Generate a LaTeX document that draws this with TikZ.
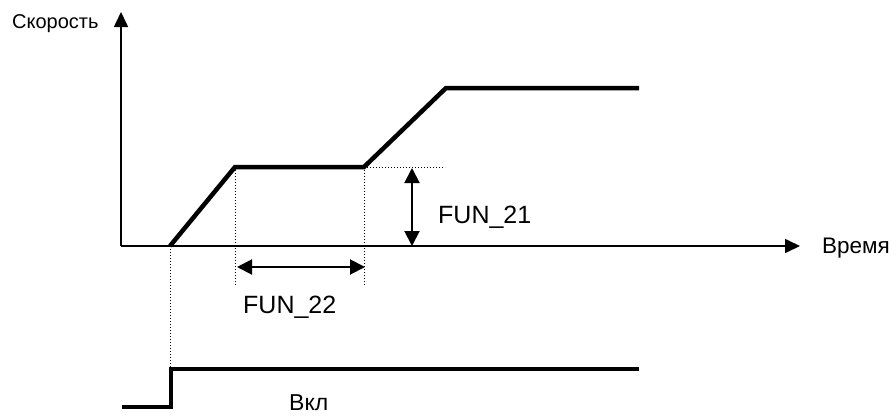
\documentclass[tikz,border=0pt]{standalone}
\usepackage{fontspec}
\setmainfont{Liberation Sans}
\usetikzlibrary{arrows.meta, positioning, calc}
\tikzset{
	axis/.style    ={line width=1.6pt, -{Triangle[length=15pt, width=14pt]}},
	speed/.style   ={line width=4.5pt, line join=miter},
	guide/.style   ={line width=1pt, dash pattern=on 1pt off 2pt},
	dimarrow/.style={line width=2pt, {Triangle[length=15pt, width=15pt]}-{Triangle[length=15pt, width=15pt]}},
	% labels
	lbl/.style     ={font=\fontsize{20}{24}\selectfont, inner sep=0pt, anchor=base west},
	funlbl/.style  ={font=\fontsize{25}{30}\selectfont, inner sep=0pt, anchor=base west},
}

\begin{document}
\begin{tikzpicture}[x=1pt, y=-1pt]
	\useasboundingbox (0,0) rectangle (896,415);
	% axes
	\coordinate (O) at (121,246);
	\coordinate (ytip) at (121,12);
	\coordinate (xtip) at (800,246);
	\draw[axis] (O) -- (ytip);
	\draw[axis] (O) -- (xtip);
	\node[lbl] (vlabel) at (12,28) {Скорость};
	\node[lbl, font=\fontsize{22.5}{26}\selectfont] (tlabel) at (822,253) {Время};
	% speed profile
	\coordinate (s0) at (170,246);
	\coordinate (s1) at (235,167);
	\coordinate (s2) at (364,167);
	\coordinate (s3) at (446,88);
	\coordinate (s4) at (639,88);
	\draw[speed] (s0) -- (s1) -- (s2) -- (s3) -- (s4);
	% guide lines
	\coordinate (g0) at (170,367);
	\coordinate (g1) at (235,285);
	\coordinate (g2) at (364,285);
	\coordinate (g3) at (445,167);
	\draw[guide] (s0) -- (g0);
	\draw[guide] (s1) -- (g1);
	\draw[guide] (s2) -- (g2);
	\draw[guide] (s2) -- (g3);
	% dimensions
	\coordinate (d1a) at (412,168);
	\coordinate (d1b) at (412,246);
	\draw[dimarrow] (d1a) -- (d1b);
	\node[funlbl] (fun21) at (438,223) {FUN\_21};
	\coordinate (d2a) at (237,267);
	\coordinate (d2b) at (365,267);
	\draw[dimarrow] (d2a) -- (d2b);
	\node[funlbl] (fun22) at (243,313) {FUN\_22};
	% run signal
	\coordinate (r0) at (122,407);
	\coordinate (r1) at (171,407);
	\coordinate (r2) at (171,369);
	\coordinate (r3) at (639,369);
	\draw[speed] (r0) -- (r1) -- (r2) -- (r3);
	\node[lbl, font=\fontsize{23}{27}\selectfont] (runlabel) at (289,410) {Вкл};
\end{tikzpicture}
\end{document}
